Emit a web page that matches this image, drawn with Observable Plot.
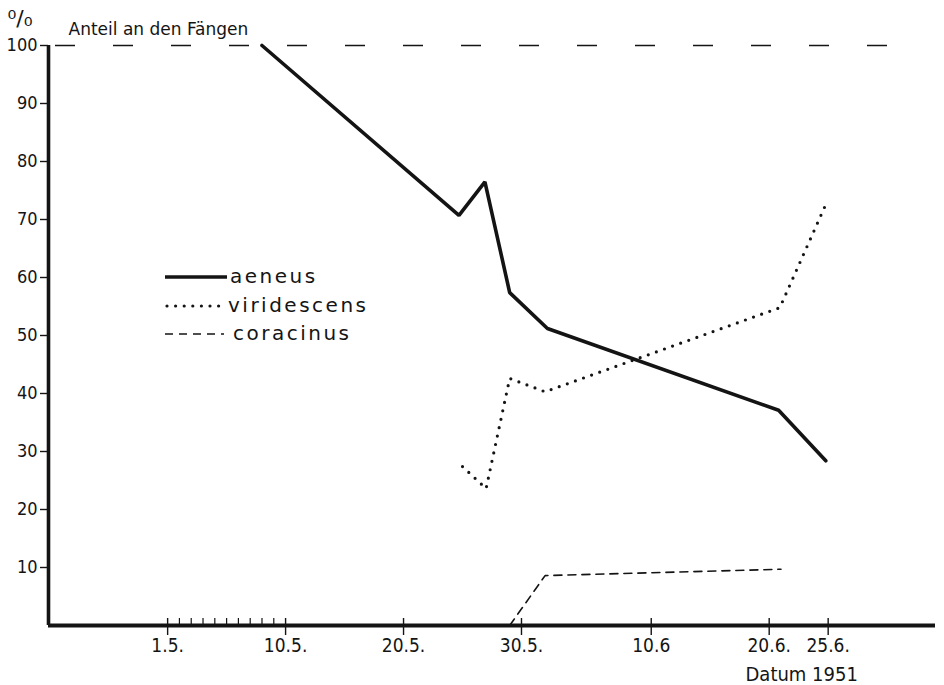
<!DOCTYPE html>
<html><head><meta charset="utf-8">
<script src="https://cdn.jsdelivr.net/npm/d3@7"></script>
<script src="https://cdn.jsdelivr.net/npm/@observablehq/plot@0.6"></script>
<style>
html,body{margin:0;padding:0;background:#fff;}
#chart svg{display:block;}
</style></head><body><div id="chart"></div>
<script>
// x positions are days along the figure's date axis (tick "1.5." sits at day 0)
const tickDays = [0, 10, 20, 30, 41, 51, 56];
const tickLabels = ["1.5.", "10.5.", "20.5.", "30.5.", "10.6", "20.6.", "25.6."];
const minorDays = [1, 2, 3, 4, 5, 6, 7, 8, 9];
const yTicks = [10, 20, 30, 40, 50, 60, 70, 80, 90, 100];

const aeneusDays = [8, 24.7, 26.9, 29, 32.2, 51.8, 55.8];
const aeneusPct  = [100, 70.7, 76.5, 57.4, 51.2, 37.1, 28.4];
const viridescensDays = [25, 27, 29, 32, 51.9, 55.8];
const viridescensPct  = [27.4, 23.6, 42.6, 40.3, 54.8, 72.6];
const coracinusDays = [29, 32, 52];
const coracinusPct  = [0, 8.6, 9.7];
const seriesNames = ["aeneus", "viridescens", "coracinus"];
const referenceLine = [100];

const titleText = "Anteil an den Fängen";
const unitText = "⁰/₀";
const xLabelText = "Datum 1951";

const ink = "#141414";
const narrow = "'DejaVu Sans Condensed', 'Liberation Sans Narrow', sans-serif";
const sans = "'DejaVu Sans', sans-serif";

const toRows = (days, pct) => days.map((d, i) => ({day: d, pct: pct[i]}));
const aeneus = toRows(aeneusDays, aeneusPct);
const viridescens = toRows(viridescensDays, viridescensPct);
const coracinus = toRows(coracinusDays, coracinusPct);

const legendStyles = [
  {w: 3.5, dash: null, cap: "butt", x1: 165, x2: 227, tx: 230},
  {w: 3.2, dash: "0 8.6", cap: "round", x1: 167, x2: 226, tx: 228},
  {w: 1.6, dash: "8 6", cap: "butt", x1: 165, x2: 224, tx: 233}
];
const legendY = [277, 306, 334];

function legendMark(index, scales, values, dims) {
  const g = d3.create("svg:g").attr("text-anchor", "start");
  seriesNames.forEach((name, i) => {
    const s = legendStyles[i];
    g.append("line")
      .attr("x1", s.x1).attr("x2", s.x2)
      .attr("y1", legendY[i]).attr("y2", legendY[i])
      .attr("stroke", ink).attr("stroke-width", s.w)
      .attr("stroke-linecap", s.cap)
      .attr("stroke-dasharray", s.dash);
    g.append("text")
      .attr("x", s.tx).attr("y", legendY[i])
      .attr("dy", "0.32em")
      .attr("text-anchor", "start")
      .attr("fill", ink)
      .attr("font-family", sans)
      .attr("font-size", 20)
      .attr("letter-spacing", 2.5)
      .text(name);
  });
  return g.node();
}

const chart = Plot.plot({
  width: 944,
  height: 685,
  marginLeft: 48,
  marginRight: 9,
  marginTop: 45,
  marginBottom: 60,
  style: {background: "#fff", color: ink},
  x: {domain: [-10.1, 65.1]},
  y: {domain: [0, 100]},
  marks: [
    Plot.ruleY(referenceLine, {y: d => d, stroke: ink, strokeWidth: 1.7, strokeDasharray: "20 38", insetLeft: 7, insetRight: 35}),
    Plot.line(aeneus, {x: "day", y: "pct", stroke: ink, strokeWidth: 3.6, strokeLinejoin: "miter"}),
    Plot.line(viridescens, {x: "day", y: "pct", stroke: ink, strokeWidth: 3.2, strokeDasharray: "0 8.6", strokeLinecap: "round"}),
    Plot.line(coracinus, {x: "day", y: "pct", stroke: ink, strokeWidth: 1.6, strokeDasharray: "8 6"}),
    Plot.axisY({ticks: yTicks, tickSize: 8, tickPadding: 3, fontSize: 18, fontFamily: narrow, label: null, strokeWidth: 1.4}),
    Plot.axisX({ticks: tickDays, tickSize: 10, tickPadding: 3, fontSize: 19, fontFamily: narrow, label: null, strokeWidth: 1.4,
      style: "letter-spacing:0.5px", tickFormat: d => tickLabels[tickDays.indexOf(d)]}),
    Plot.axisX({ticks: tickDays, tickSize: -7, text: null, label: null, strokeWidth: 1.4}),
    Plot.axisX({ticks: minorDays, tickSize: -7, text: null, label: null, strokeWidth: 1.2}),
    Plot.ruleY([0], {stroke: ink, strokeWidth: 3.8}),
    Plot.ruleX([-10.1], {stroke: ink, strokeWidth: 3.6}),
    Plot.text([titleText], {text: d => d, frameAnchor: "top-left", textAnchor: "start", lineAnchor: "bottom", dx: 20, dy: -11, fontSize: 17, fontFamily: sans, fill: ink, style: "letter-spacing:1.5px"}),
    Plot.text([unitText], {text: d => d, frameAnchor: "top-left", textAnchor: "start", lineAnchor: "bottom", dx: -41, dy: -20, fontSize: 22, fontFamily: sans, fill: ink}),
    Plot.text([xLabelText], {text: d => d, frameAnchor: "bottom-left", textAnchor: "start", lineAnchor: "bottom", dx: 697, dy: 55, fontSize: 20, fontFamily: narrow, fill: ink, style: "letter-spacing:1px"}),
    legendMark
  ]
});
document.getElementById("chart").append(chart);
</script>
</body></html>
